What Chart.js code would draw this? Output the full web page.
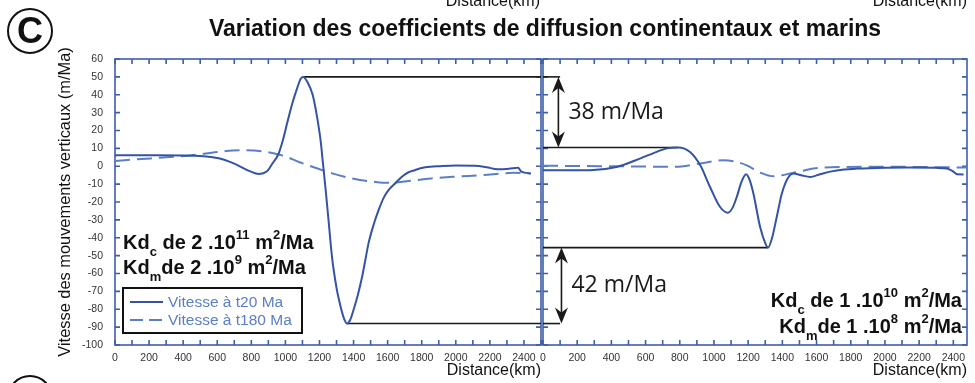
<!DOCTYPE html>
<html>
<head>
<meta charset="utf-8">
<script src="https://cdn.jsdelivr.net/npm/chart.js@4.4.1/dist/chart.umd.min.js"></script>
<style>
html, body { margin: 0; padding: 0; background: #fff; }
#wrap { position: relative; width: 975px; height: 383px; overflow: hidden; font-family: "Liberation Sans", Arial, sans-serif; color: #111; }
canvas { position: absolute; top: 0; }
#leftChart { left: 0; }
#rightChart { left: 530px; }
.txt { position: absolute; white-space: nowrap; }
.title { left: 0; width: 1090px; text-align: center; top: 16.5px; font-weight: bold; font-size: 23px; line-height: 23px; }
.ghost { font-size: 16px; line-height: 16px; top: -7px; }
.kd { font-weight: bold; font-size: 20px; line-height: 20px; }
.sb { font-size: 13px; position: relative; top: 7px; }
.sp { font-size: 13px; position: relative; top: -10px; }
.circ { position: absolute; width: 46px; height: 46px; box-sizing: border-box; border: 2.5px solid #111; border-radius: 50%;
        font-weight: bold; font-size: 36px; line-height: 41px; text-align: center; }
</style>
</head>
<body>
<div id="wrap">
  <canvas id="leftChart" width="548" height="383"></canvas>
  <canvas id="rightChart" width="445" height="383"></canvas>

  <div class="circ" style="left:7px;top:8px;">C</div>
  <div class="circ" style="left:7px;top:375px;">D</div>

  <div class="txt title">Variation des coefficients de diffusion continentaux et marins</div>
  <div class="txt ghost" style="right:435px;">Distance(km)</div>
  <div class="txt ghost" style="right:8px;">Distance(km)</div>

  <div class="txt kd" style="left:123px;top:232px;">Kd<span class="sb">c</span> de 2 .10<span class="sp">11</span> m<span class="sp">2</span>/Ma</div>
  <div class="txt kd" style="left:123px;top:257px;">Kd<span class="sb">m</span>de 2 .10<span class="sp">9</span> m<span class="sp">2</span>/Ma</div>
  <div class="txt kd" style="right:13px;top:290px;">Kd<span class="sb">c</span> de 1 .10<span class="sp">10</span> m<span class="sp">2</span>/Ma</div>
  <div class="txt kd" style="right:13px;top:316px;">Kd<span class="sb">m</span>de 1 .10<span class="sp">8</span> m<span class="sp">2</span>/Ma</div>
</div>

<script>
// --- data (distance in km, velocity in m/Ma) ---
const seriesLabels = ["Vitesse à t20 Ma", "Vitesse à t180 Ma"];

// left panel : Kdc 2.10^11, Kdm 2.10^9
const kmLeft20 = [0, 200, 400, 600, 700, 790, 845, 890, 925, 960, 985, 1010, 1040, 1070, 1090, 1105, 1130, 1160, 1185, 1207,
  1220, 1235, 1250, 1275, 1300, 1315, 1343, 1362, 1380, 1401, 1425, 1450, 1470, 1488, 1520, 1547, 1575, 1605, 1645, 1682,
  1720, 1760, 1800, 1850, 1900, 2000, 2110, 2180, 2245, 2300, 2350, 2365, 2385, 2440];
const vLeft20 = [6.2, 6.1, 6, 4.6, 1.5, -2.7, -4.3, -3, 1.7, 7, 14.5, 24, 35, 44, 49, 50, 47, 40, 28, 14,
  2, -12, -27, -52, -68, -75, -85, -88, -86, -80, -72, -62, -52, -43, -32, -24.6, -18, -13.4, -9.5, -6,
  -3.5, -2.2, -1, -0.3, 0, 0.4, 0.3, -0.5, -1.7, -1.5, -1, -0.8, -3, -4];

const kmLeft180 = [0, 210, 440, 600, 733, 890, 1000, 1080, 1180, 1275, 1400, 1530, 1605, 1700, 1855, 2000, 2150, 2340, 2440];
const vLeft180 = [3, 4.4, 6, 8, 9, 8, 5.5, 2.4, -1, -4, -7, -8.8, -9.3, -8.5, -6.8, -5.8, -5, -3.7, -4];

// right panel : Kdc 1.10^10, Kdm 1.10^8
const kmRight20 = [0, 275, 430, 570, 650, 725, 790, 860, 920, 977, 1036, 1081, 1110, 1134, 1160, 1188, 1210, 1230, 1270, 1300,
  1317, 1340, 1368, 1395, 1417, 1440, 1464, 1510, 1563, 1620, 1680, 1760, 1836, 2000, 2129, 2300, 2363, 2400, 2422, 2460];
const vRight20 = [-2.2, -2.2, -0.4, 4.4, 7.5, 10, 10.5, 8, 0.5, -11.6, -22.8, -26, -23, -17, -9, -4.5, -8, -15, -34, -43,
  -45.5, -40, -28, -16, -9.6, -5.5, -4, -5, -6, -4.5, -3, -1.8, -1.3, -0.8, -0.7, -0.9, -1.3, -3, -4.5, -4.6];

const kmRight180 = [0, 400, 763, 920, 1055, 1130, 1192, 1270, 1348, 1400, 1446, 1520, 1582, 1740, 2000, 2300, 2480];
const vRight180 = [0.3, 0, -0.3, 1.5, 3.4, 2.5, 0.5, -3.5, -5.6, -5, -4, -2.5, -1.3, -0.4, -0.3, -0.5, -0.7];

// black reference levels
const refLeftKm = [[1105, 2500], [1362, 2500]];
const refLeftV = [50, -88];
const refRightKm = [[0, 100], [0, 790], [0, 1317], [0, 100]];
const refRightV = [50, 10.5, -45.5, -88];

// amplitude arrows (right panel)
const arrowKm = [90, 108];
const arrowFromV = [50, -45.5];
const arrowToV = [10.5, -88];
const arrowText = ["38 m/Ma", "42 m/Ma"];

// axes
const yMin = -100, yMax = 60, yStep = 10;
const xStep = 100, xLabelStep = 200, xLastLabel = 2400;
const xMaxLeft = 2500, xMaxRight = 2480;

const BLUE_AXIS = "#3d5ea9";
const BLUE_SOLID = "#3553a4";
const BLUE_DASH = "#5b7fc6";

function pts(km, v) {
  return km.map((x, i) => ({ x: x, y: v[i] }));
}

function refSets(kms, vs) {
  return kms.map((pair, i) => ({
    data: pair.map(x => ({ x: x, y: vs[i] })),
    borderColor: "#1a1a1a", borderWidth: 1.6, pointRadius: 0, tension: 0
  }));
}

function curveSets(km20, v20, km180, v180) {
  return [
    { label: seriesLabels[0], data: pts(km20, v20), borderColor: BLUE_SOLID, borderWidth: 2,
      pointRadius: 0, cubicInterpolationMode: "monotone" },
    { label: seriesLabels[1], data: pts(km180, v180), borderColor: BLUE_DASH, borderWidth: 2,
      borderDash: [15, 7], pointRadius: 0, cubicInterpolationMode: "monotone" }
  ];
}

// frame with inward ticks on all four sides
const frame = {
  id: "frame",
  beforeDatasetsDraw(chart) {
    const { ctx, chartArea: a, scales: { x, y } } = chart;
    ctx.save();
    ctx.strokeStyle = BLUE_AXIS;
    ctx.lineWidth = 1.6;
    ctx.strokeRect(a.left, a.top, a.right - a.left, a.bottom - a.top);
    ctx.beginPath();
    x.ticks.forEach(t => {
      if (t.value % xStep) return;
      const px = x.getPixelForValue(t.value);
      ctx.moveTo(px, a.top); ctx.lineTo(px, a.top + 5);
      ctx.moveTo(px, a.bottom); ctx.lineTo(px, a.bottom - 5);
    });
    y.ticks.forEach(t => {
      const py = y.getPixelForValue(t.value);
      ctx.moveTo(a.left, py); ctx.lineTo(a.left + 5, py);
      ctx.moveTo(a.right, py); ctx.lineTo(a.right - 5, py);
    });
    ctx.stroke();
    ctx.restore();
  }
};

// boxed legend in the lower left corner of the left panel
const boxLegend = {
  id: "boxLegend",
  afterDatasetsDraw(chart) {
    const ctx = chart.ctx;
    const bx = 123, by = 288, bw = 179, bh = 45;
    ctx.save();
    ctx.fillStyle = "#fff";
    ctx.fillRect(bx, by, bw, bh);
    ctx.lineWidth = 2;
    ctx.strokeStyle = "#111";
    ctx.strokeRect(bx, by, bw, bh);
    chart.data.datasets.filter(d => d.label).forEach((d, i) => {
      const ly = by + 14 + i * 18;
      ctx.strokeStyle = d.borderColor;
      ctx.lineWidth = 2;
      ctx.setLineDash(d.borderDash ? [13, 6] : []);
      ctx.beginPath();
      ctx.moveTo(bx + 7, ly); ctx.lineTo(bx + 40, ly);
      ctx.stroke();
      ctx.setLineDash([]);
      ctx.fillStyle = "#5a7ec8";
      ctx.font = "15.5px 'Liberation Sans', Arial, sans-serif";
      ctx.textBaseline = "middle";
      ctx.fillText(d.label, bx + 45, ly + 1);
    });
    ctx.restore();
  }
};

// double arrows with their amplitude labels
const arrows = {
  id: "arrows",
  afterDatasetsDraw(chart) {
    const { ctx, scales: { x, y } } = chart;
    ctx.save();
    ctx.strokeStyle = "#1a1a1a";
    ctx.fillStyle = "#1a1a1a";
    arrowKm.forEach((km, i) => {
      const px = x.getPixelForValue(km);
      const y1 = y.getPixelForValue(arrowFromV[i]);
      const y2 = y.getPixelForValue(arrowToV[i]);
      ctx.lineWidth = 1.6;
      ctx.beginPath(); ctx.moveTo(px, y1 + 8); ctx.lineTo(px, y2 - 8); ctx.stroke();
      [[y1, 1], [y2, -1]].forEach(([tip, dir]) => {
        ctx.beginPath();
        ctx.moveTo(px, tip);
        ctx.lineTo(px + 6.5, tip + dir * 16);
        ctx.lineTo(px, tip + dir * 11);
        ctx.lineTo(px - 6.5, tip + dir * 16);
        ctx.closePath();
        ctx.fill();
      });
      ctx.font = "23px 'Open Sans', 'Liberation Sans', sans-serif";
      ctx.textBaseline = "middle";
      ctx.fillText(arrowText[i], px + 10, (y1 + y2) / 2);
    });
    ctx.restore();
  }
};

function xAxis(max) {
  return {
    type: "linear", min: 0, max: max,
    afterFit(s) { s.height = 38; },
    grid: { display: false, drawTicks: false },
    border: { display: false },
    ticks: {
      stepSize: xStep, autoSkip: false, maxRotation: 0, padding: 7, includeBounds: false,
      color: "#333", font: { family: "'Liberation Sans', Arial, sans-serif", size: 10.5 },
      callback: v => (v % xLabelStep === 0 && v <= xLastLabel ? v : "")
    },
    title: {
      display: true, text: "Distance(km)", align: "end", color: "#111",
      font: { family: "'Liberation Sans', Arial, sans-serif", size: 16 },
      padding: { top: 0, bottom: 2.4 }
    }
  };
}

new Chart(document.getElementById("leftChart"), {
  type: "line",
  data: { datasets: curveSets(kmLeft20, vLeft20, kmLeft180, vLeft180).concat(refSets(refLeftKm, refLeftV)) },
  options: {
    responsive: false, animation: false, events: [],
    layout: { padding: { top: 59, left: 0, right: 5, bottom: 0 } },
    plugins: { legend: { display: false }, tooltip: { enabled: false } },
    scales: {
      x: xAxis(xMaxLeft),
      y: {
        min: yMin, max: yMax,
        afterFit(s) { s.width = 115; },
        grid: { display: false, drawTicks: false },
        border: { display: false },
        ticks: {
          stepSize: yStep, autoSkip: false, padding: 12,
          color: "#333", font: { family: "'Liberation Sans', Arial, sans-serif", size: 10.5 }
        },
        title: {
          display: true, text: "Vitesse des mouvements verticaux (m/Ma)", color: "#111",
          font: { family: "'Liberation Sans', Arial, sans-serif", size: 16.4 },
          padding: { top: 56, bottom: 0 }
        }
      }
    }
  },
  plugins: [frame, boxLegend]
});

new Chart(document.getElementById("rightChart"), {
  type: "line",
  data: { datasets: curveSets(kmRight20, vRight20, kmRight180, vRight180).concat(refSets(refRightKm, refRightV)) },
  options: {
    responsive: false, animation: false, events: [],
    layout: { padding: { top: 59, left: 13, right: 8, bottom: 0 } },
    plugins: { legend: { display: false }, tooltip: { enabled: false } },
    scales: {
      x: xAxis(xMaxRight),
      y: {
        min: yMin, max: yMax,
        afterFit(s) { s.width = 0; },
        grid: { display: false, drawTicks: false },
        border: { display: false },
        ticks: { stepSize: yStep, display: false }
      }
    }
  },
  plugins: [frame, arrows]
});
</script>
</body>
</html>
